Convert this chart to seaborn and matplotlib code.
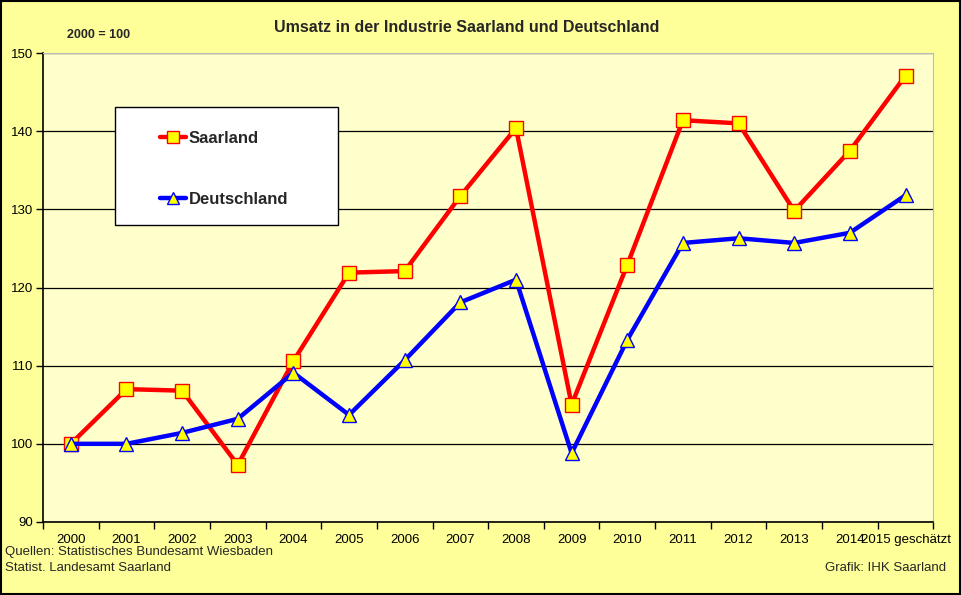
import matplotlib
matplotlib.use("Agg")
import matplotlib.pyplot as plt
import seaborn as sns
import pandas as pd
from matplotlib.patches import Rectangle

years = ["2000", "2001", "2002", "2003", "2004", "2005", "2006", "2007",
         "2008", "2009", "2010", "2011", "2012", "2013", "2014", "2015 geschätzt"]
saarland = [100.0, 107.0, 106.8, 97.3, 110.6, 121.9, 122.1, 131.7,
            140.4, 105.0, 122.9, 141.4, 141.0, 129.8, 137.5, 147.1]
deutschland = [100.0, 100.0, 101.4, 103.2, 109.1, 103.7, 110.7, 118.1,
               121.0, 98.8, 113.3, 125.7, 126.3, 125.7, 127.0, 131.8]

sns.set_style("white")
plt.rcParams["font.family"] = ["Liberation Sans", "DejaVu Sans"]

df = pd.DataFrame({"pos": range(len(years)), "Saarland": saarland, "Deutschland": deutschland})

fig = plt.figure(figsize=(9.62, 5.95), dpi=100)
fig.patch.set_facecolor("#FFFF99")
fig.patches.append(Rectangle((0.001, 0.001), 0.997, 0.997, transform=fig.transFigure,
                             fill=False, edgecolor="black", linewidth=1.5))

ax = fig.add_axes([0.0447, 0.1227, 0.9255, 0.7882])
ax.set_facecolor("#FFFFCC")

sns.lineplot(data=df, x="pos", y="Saarland", ax=ax, color="#FF0000", linewidth=3.2,
             marker="s", markersize=10, markerfacecolor="#FFFF00", markeredgecolor="#FF0000",
             markeredgewidth=1, label="Saarland", zorder=3)
sns.lineplot(data=df, x="pos", y="Deutschland", ax=ax, color="#0000FF", linewidth=3.2,
             marker="^", markersize=10, markerfacecolor="#FFFF00", markeredgecolor="#0000FF",
             markeredgewidth=1, label="Deutschland", zorder=4)

ax.set_xlim(-0.5, len(years) - 0.5)
ax.set_ylim(90, 150)
ax.set_yticks(range(90, 151, 10))
ax.yaxis.grid(True, color="black", linewidth=0.9)
ax.set_axisbelow(True)
ax.set_xticks(range(len(years)))
ax.set_xticklabels(years)
ax.set_xticks([i - 0.5 for i in range(len(years) + 1)], minor=True)
ax.tick_params(axis="x", which="major", bottom=False, length=0, pad=9,
               labelsize=9.5, labelcolor="black")
ax.tick_params(axis="x", which="minor", bottom=True, length=5, width=1,
               color="black", direction="out")
ax.tick_params(axis="y", left=True, length=5, width=1, color="black", direction="out",
               labelsize=9.5, labelcolor="black", pad=2)
ax.set_xlabel("")
ax.set_ylabel("")
for side in ["top", "right"]:
    ax.spines[side].set_visible(True)
    ax.spines[side].set_color("#BBBBBB")
    ax.spines[side].set_linewidth(0.8)
for side in ["left", "bottom"]:
    ax.spines[side].set_color("black")
    ax.spines[side].set_linewidth(1.2)

# legend box drawn separately, entries placed inside
ax.add_patch(Rectangle((0.0809, 0.633), 0.2506, 0.252, transform=ax.transAxes,
                       facecolor="white", edgecolor="black", linewidth=1, zorder=9))
leg = ax.legend(loc="upper left", bbox_to_anchor=(0.131, 0.834), frameon=False,
                handlelength=1.6, handletextpad=0.15, labelspacing=2.75, borderpad=0,
                borderaxespad=0, prop={"weight": "bold", "size": 12})
leg.set_zorder(10)
for h in leg.legend_handles:
    h.set_markersize(8)

fig.text(0.485, 0.953, "Umsatz in der Industrie Saarland und Deutschland",
         ha="center", va="center", fontsize=11.5, fontweight="bold")
fig.text(0.07, 0.942, "2000 = 100", ha="left", va="center", fontsize=9, fontweight="bold")
fig.text(0.005, 0.072, "Quellen: Statistisches Bundesamt Wiesbaden", ha="left", va="center", fontsize=9.5)
fig.text(0.005, 0.046, "Statist. Landesamt Saarland", ha="left", va="center", fontsize=9.5)
fig.text(0.984, 0.045, "Grafik: IHK Saarland", ha="right", va="center", fontsize=9.5)

fig.savefig("out.png", dpi=100, facecolor=fig.get_facecolor())
